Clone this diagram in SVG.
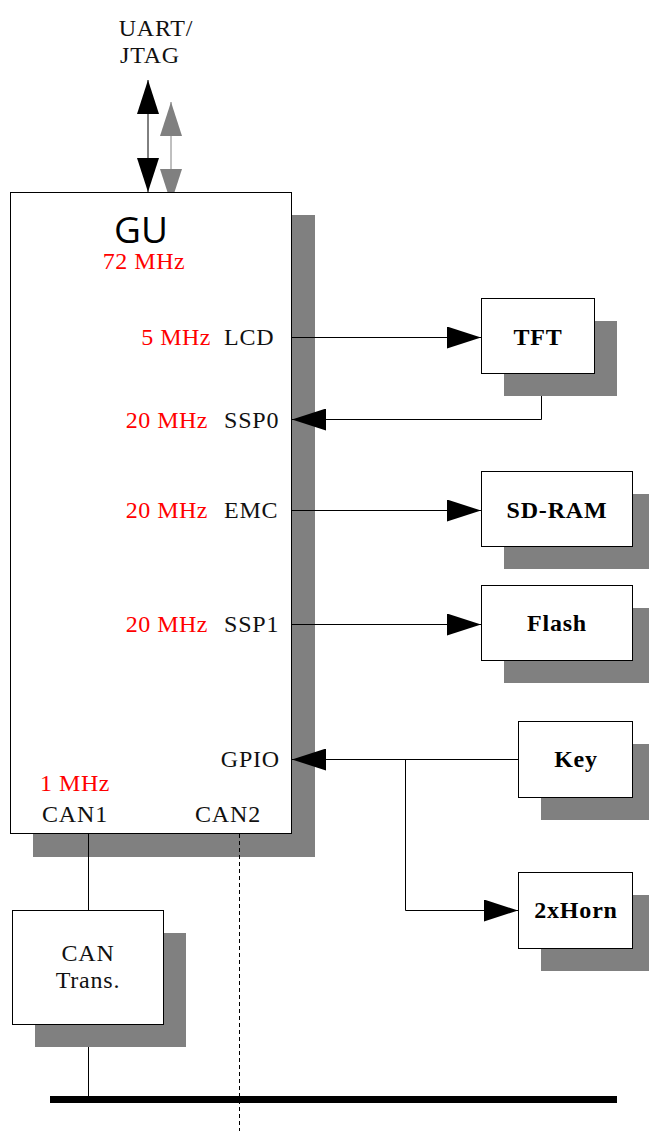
<svg xmlns="http://www.w3.org/2000/svg" width="649" height="1131" viewBox="0 0 649 1131">
<style>
.sh{fill:#808080;stroke:none}
.bx{fill:#fff;stroke:#000;stroke-width:1}
.t{font-family:"Liberation Serif",serif;font-size:24px;letter-spacing:0.8px;fill:#111}
.r{font-family:"Liberation Serif",serif;font-size:24px;letter-spacing:0.5px;fill:#ff0000}
.b{font-family:"Liberation Serif",serif;font-size:24px;letter-spacing:0.8px;font-weight:bold;fill:#000;text-anchor:middle}
.c{fill:none;stroke:#000;stroke-width:1}
</style>
<defs>
<marker id="ah" viewBox="0 0 34 22" refX="34" refY="11" markerWidth="34" markerHeight="22" markerUnits="userSpaceOnUse" orient="auto-start-reverse"><path d="M0,0L34,11L0,22z" fill="#000"/></marker>
<marker id="ahg" viewBox="0 0 34 22" refX="34" refY="11" markerWidth="34" markerHeight="22" markerUnits="userSpaceOnUse" orient="auto-start-reverse"><path d="M0,0L34,11L0,22z" fill="#808080"/></marker>
</defs>
<g id="connectors">
<line x1="148" y1="80" x2="148" y2="192" class="c" marker-start="url(#ah)" marker-end="url(#ah)"/>
<line x1="171" y1="102" x2="171" y2="203" stroke="#808080" stroke-width="1" marker-start="url(#ahg)" marker-end="url(#ahg)"/>
</g>
<g id="GU">
<rect x="33" y="215" width="282" height="642" class="sh"/>
<rect x="10.5" y="192.5" width="281" height="641" class="bx"/>
<text x="141" y="243" font-family="Open Sans, sans-serif" font-size="37" text-anchor="middle" fill="#000">GU</text>
<text x="144" y="269" class="r" text-anchor="middle">72 MHz</text>
<text x="211" y="345" class="r" text-anchor="end">5 MHz</text>
<text x="224" y="345" class="t">LCD</text>
<text x="208" y="428" class="r" text-anchor="end">20 MHz</text>
<text x="224" y="428" class="t">SSP0</text>
<text x="208" y="518" class="r" text-anchor="end">20 MHz</text>
<text x="224" y="518" class="t">EMC</text>
<text x="208" y="632" class="r" text-anchor="end">20 MHz</text>
<text x="224" y="632" class="t">SSP1</text>
<text x="280" y="767" class="t" text-anchor="end">GPIO</text>
<text x="75" y="791" class="r" text-anchor="middle">1 MHz</text>
<text x="75" y="822" class="t" text-anchor="middle">CAN1</text>
<text x="228" y="822" class="t" text-anchor="middle">CAN2</text>
</g>
<g id="uart">
<text x="156" y="36" class="t" text-anchor="middle">UART/</text>
<text x="150" y="63" class="t" text-anchor="middle">JTAG</text>
</g>
<g id="connectors2">
<line x1="292" y1="337.5" x2="481" y2="337.5" class="c" marker-end="url(#ah)"/>
<polyline points="541.5,373 541.5,419.5 292,419.5" class="c" marker-end="url(#ah)"/>
<line x1="292" y1="510.5" x2="481" y2="510.5" class="c" marker-end="url(#ah)"/>
<line x1="292" y1="624.5" x2="481" y2="624.5" class="c" marker-end="url(#ah)"/>
<line x1="518" y1="759.5" x2="292" y2="759.5" class="c" marker-end="url(#ah)"/>
<polyline points="405.5,759.5 405.5,910.5 518,910.5" class="c" marker-end="url(#ah)"/>
<line x1="88.5" y1="834" x2="88.5" y2="910" class="c"/>
<line x1="88.5" y1="1024" x2="88.5" y2="1100" class="c"/>
<line x1="239.5" y1="834" x2="239.5" y2="1131" stroke="#000" stroke-width="1" stroke-dasharray="4,3"/>
<line x1="50" y1="1099.5" x2="617" y2="1099.5" stroke="#000" stroke-width="7"/>
</g>
<g id="TFT">
<rect x="504" y="321" width="113" height="75" class="sh"/>
<rect x="481.5" y="298.5" width="113" height="75" class="bx"/>
<text x="538" y="345" class="b">TFT</text>
</g>
<g id="SDRAM">
<rect x="504" y="494" width="151" height="75" class="sh"/>
<rect x="481.5" y="471.5" width="151" height="75" class="bx"/>
<text x="557" y="518" class="b">SD-RAM</text>
</g>
<g id="Flash">
<rect x="504" y="608" width="151" height="75" class="sh"/>
<rect x="481.5" y="585.5" width="151" height="75" class="bx"/>
<text x="557" y="631" class="b">Flash</text>
</g>
<g id="Key">
<rect x="541" y="744" width="114" height="76" class="sh"/>
<rect x="518.5" y="721.5" width="114" height="76" class="bx"/>
<text x="576" y="767" class="b">Key</text>
</g>
<g id="Horn">
<rect x="541" y="895" width="114" height="76" class="sh"/>
<rect x="518.5" y="872.5" width="114" height="76" class="bx"/>
<text x="576" y="918" class="b">2xHorn</text>
</g>
<g id="CANTrans">
<rect x="35" y="933" width="151" height="114" class="sh"/>
<rect x="12.5" y="910.5" width="151" height="114" class="bx"/>
<text x="88" y="961" class="t" text-anchor="middle">CAN</text>
<text x="88" y="988" class="t" text-anchor="middle">Trans.</text>
</g>
</svg>
